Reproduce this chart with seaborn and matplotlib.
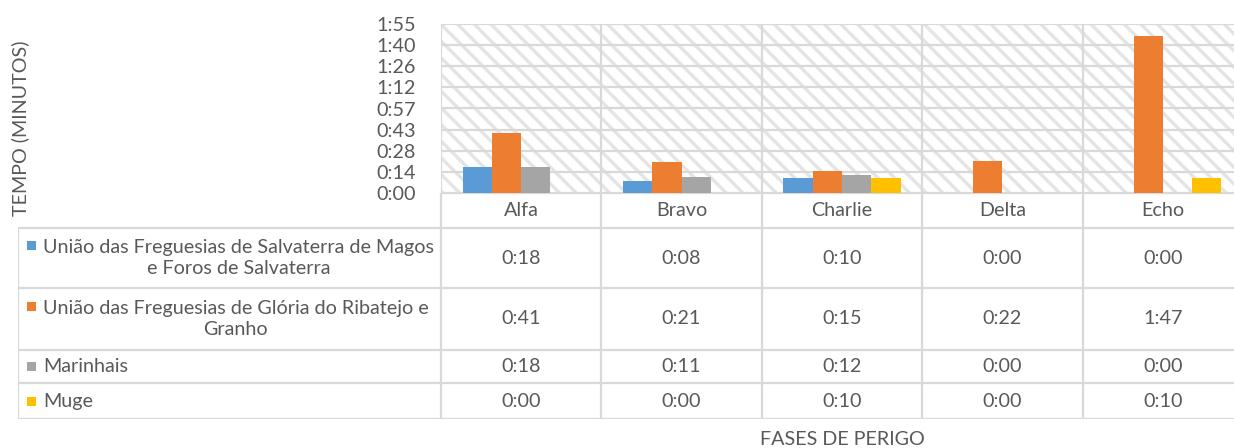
import textwrap
import numpy as np
import pandas as pd
import matplotlib
matplotlib.use('Agg')
import matplotlib.pyplot as plt
from matplotlib.patches import Rectangle
import seaborn as sns

# dados (minutos)
fases = ['Alfa', 'Bravo', 'Charlie', 'Delta', 'Echo']
freguesias = [
    'União das Freguesias de Salvaterra de Magos e Foros de Salvaterra',
    'União das Freguesias de Glória do Ribatejo e Granho',
    'Marinhais',
    'Muge',
]
salvaterra = [18, 8, 10, 0, 0]
gloria = [41, 21, 15, 22, 107]
marinhais = [18, 11, 12, 0, 0]
muge = [0, 0, 10, 0, 10]
cores = ['#5B9BD5', '#ED7D31', '#A5A5A5', '#FFC000']

# eixo y em passos de 0.01 dia (14.4 min), como no Excel
y_ticks = np.arange(0, 9) * 14.4

series = [salvaterra, gloria, marinhais, muge]
df = pd.DataFrame({
    'fase': fases * len(freguesias),
    'freguesia': [f for f in freguesias for _ in fases],
    'minutos': [v for s in series for v in s],
})


def hmm(m):
    m = int(m)
    return f'{m // 60}:{m % 60:02d}'


sns.set_theme(style='white')
plt.rcParams['font.family'] = ['Lato', 'DejaVu Sans']
plt.rcParams['hatch.linewidth'] = 2.4

txt = '#595959'
grid = '#D9D9D9'
fs = 14.2

W, H = 1234, 448
fig = plt.figure(figsize=(W / 100, H / 100), dpi=100)


def box(l, t, r, b):
    return [l / W, 1 - b / H, (r - l) / W, (b - t) / H]


ax = fig.add_axes(box(441, 24, 1243, 193))
tab = fig.add_axes(box(18, 193, 1243, 419))

# fundo tracejado
ax.add_patch(Rectangle((0, 0), 1, 1, transform=ax.transAxes, facecolor='white',
                       edgecolor='#E4E4E4', linewidth=0, hatch='\\\\', zorder=0))

sns.barplot(data=df, x='fase', y='minutos', hue='freguesia', hue_order=freguesias,
            palette=cores, width=0.73, saturation=1, errorbar=None, linewidth=0,
            legend=False, ax=ax, zorder=2)

ax.set_xlim(-0.5, 4.5)
ax.set_ylim(0, y_ticks[-1])
ax.set_yticks(y_ticks)
ax.set_yticklabels([hmm(t) for t in y_ticks])
ax.set_xticks(range(len(fases)))
ax.set_xticks(np.arange(-0.5, len(fases)), minor=True)
ax.tick_params(axis='x', which='both', length=0, labelbottom=False)
ax.tick_params(axis='y', length=0, pad=18, labelsize=fs, labelcolor=txt)
ax.yaxis.grid(True, color=grid, linewidth=1.6, zorder=1)
ax.xaxis.grid(True, which='minor', color=grid, linewidth=1.6, zorder=1)
ax.set_axisbelow(True)
ax.set_xlabel('')
ax.set_ylabel('')
for sp in ax.spines.values():
    sp.set_visible(False)

# tabela de dados
col_px = 160.5
x_left = -0.5 - (441 - 18) / col_px
row_edges = [0, 35, 95, 157, 190, 226]
tab.set_xlim(x_left, 4.5)
tab.set_ylim(row_edges[-1], 0)
tab.axis('off')

tab.hlines(row_edges[1:], x_left, 4.5, color=grid, linewidth=1.6)
tab.hlines(0, -0.5, 4.5, color=grid, linewidth=1.6)
tab.vlines(np.arange(-0.5, len(fases)), 0, row_edges[-1], color=grid, linewidth=1.6)
tab.vlines(x_left, row_edges[1], row_edges[-1], color=grid, linewidth=1.6)

for i, f in enumerate(fases):
    tab.text(i, (row_edges[0] + row_edges[1]) / 2, f, ha='center', va='center',
             fontsize=fs, color=txt)

line_h = 25
for r, (nome, vals, cor) in enumerate(zip(freguesias, series, cores)):
    top, bot = row_edges[r + 1], row_edges[r + 2]
    yc = (top + bot) / 2
    linhas = textwrap.wrap(nome, 44)
    y_first = yc - (len(linhas) - 1) * line_h / 2
    tab.add_patch(Rectangle((x_left + 9 / col_px, y_first - 4.5), 9 / col_px, 9,
                            facecolor=cor, edgecolor='none', clip_on=False))
    tab.text(x_left + 25 / col_px, yc, '\n'.join(linhas), ha='left', va='center',
             multialignment='center', linespacing=1.25, fontsize=fs, color=txt)
    for i, v in enumerate(vals):
        tab.text(i, yc, hmm(v), ha='center', va='center', fontsize=fs, color=txt)

fig.text(20 / W, 1 - 128 / H, 'TEMPO (MINUTOS)', rotation=90, ha='center', va='center',
         fontsize=fs, color=txt)
fig.text(842 / W, 1 - 439 / H, 'FASES DE PERIGO', ha='center', va='center',
         fontsize=fs, color=txt)

fig.savefig('out.png', dpi=100)
